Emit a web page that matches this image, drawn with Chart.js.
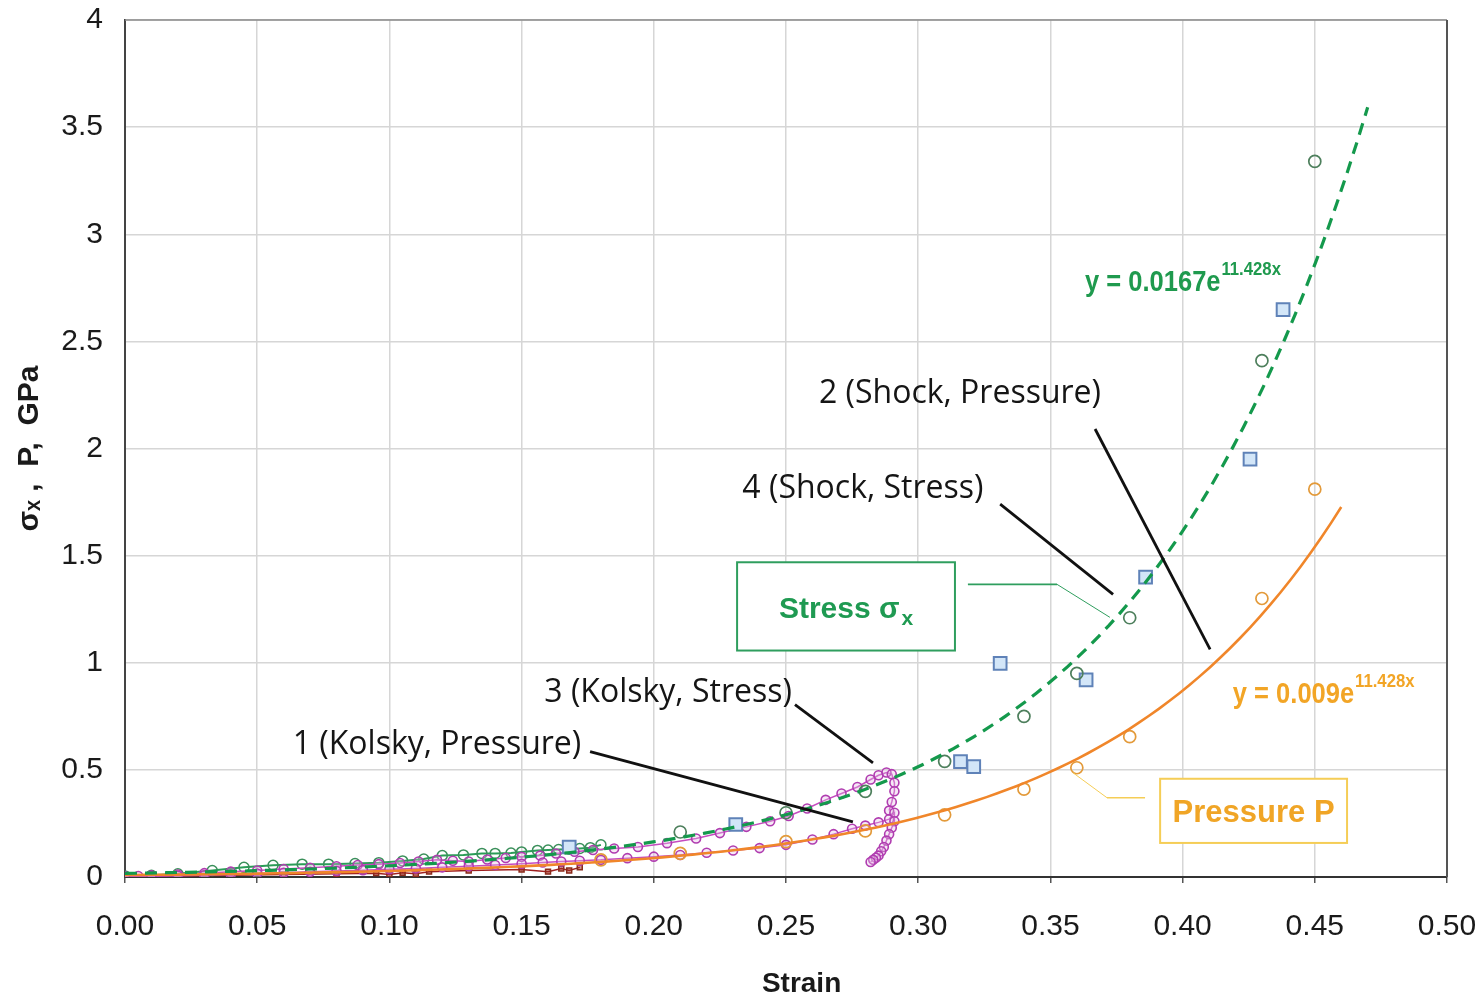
<!DOCTYPE html>
<html>
<head>
<meta charset="utf-8">
<script src="https://cdn.jsdelivr.net/npm/chart.js@4.4.1/dist/chart.umd.min.js"></script>
<style>
  html, body { margin: 0; padding: 0; background: #ffffff; }
  #wrap { width: 1484px; height: 998px; }
</style>
</head>
<body>
<div id="wrap"><canvas id="c" width="1484" height="998"></canvas></div>
<script>
// ---- data: strain vs. stress / pressure (GPa) ----
// Kolsky bar, stress (green, low strain part)
const kolskyStressGreenX = [0.000,0.010,0.020,0.033,0.045,0.056,0.067,0.077,0.087,0.096,0.105,0.113,0.120,0.128,0.135,0.140,0.146,0.150,0.156,0.160,0.164,0.168,0.172,0.176,0.180];
const kolskyStressGreenY = [0.005,0.008,0.015,0.030,0.045,0.055,0.060,0.060,0.063,0.067,0.075,0.084,0.100,0.103,0.110,0.110,0.112,0.117,0.124,0.126,0.128,0.130,0.133,0.137,0.150];

// Shock data, stress (green circles)
const shockStressX = [0.210,0.250,0.280,0.310,0.340,0.360,0.380,0.430,0.450];
const shockStressY = [0.210,0.300,0.400,0.540,0.750,0.950,1.210,2.410,3.340];

// Shock data, pressure (orange circles)
const shockPressureX = [0.180,0.210,0.250,0.280,0.310,0.340,0.360,0.380,0.430,0.450];
const shockPressureY = [0.080,0.110,0.165,0.215,0.290,0.410,0.510,0.655,1.300,1.810];

// Shock data, second set (blue squares)
const shockSquaresX = [0.168,0.231,0.316,0.321,0.331,0.3635,0.386,0.4255,0.438];
const shockSquaresY = [0.140,0.245,0.538,0.515,0.997,0.920,1.400,1.950,2.648];

// Kolsky bar, stress (magenta, loading and unloading)
const kolskyStressX = [0.000,0.005,0.010,0.020,0.030,0.040,0.050,0.060,0.070,0.080,0.088,0.096,0.104,0.111,0.118,0.124,0.130,0.137,0.144,0.150,0.157,0.163,0.170,0.177,0.185,0.194,0.205,0.216,0.225,0.235,0.244,0.251,0.258,0.265,0.271,0.277,0.282,0.285,0.288,0.290,0.291,0.291,0.290,0.289];
const kolskyStressY = [0.003,0.005,0.008,0.012,0.018,0.025,0.030,0.037,0.043,0.050,0.056,0.060,0.065,0.072,0.080,0.076,0.072,0.082,0.089,0.094,0.100,0.110,0.118,0.126,0.133,0.140,0.158,0.180,0.205,0.234,0.260,0.285,0.320,0.360,0.390,0.420,0.455,0.475,0.488,0.480,0.440,0.400,0.350,0.310];

// Kolsky bar, pressure (magenta, loading and unloading)
const kolskyPressureX = [0.000,0.010,0.020,0.030,0.040,0.050,0.060,0.070,0.080,0.090,0.100,0.110,0.120,0.130,0.140,0.150,0.158,0.165,0.172,0.180,0.190,0.200,0.210,0.220,0.230,0.240,0.250,0.260,0.268,0.275,0.280,0.285,0.289,0.291,0.291,0.290,0.289,0.288,0.287,0.286,0.285,0.284,0.283,0.282];
const kolskyPressureY = [0.002,0.004,0.006,0.008,0.012,0.016,0.020,0.024,0.028,0.032,0.036,0.040,0.045,0.050,0.056,0.062,0.068,0.072,0.076,0.080,0.088,0.095,0.103,0.113,0.124,0.135,0.150,0.175,0.200,0.225,0.240,0.255,0.270,0.300,0.260,0.230,0.200,0.170,0.140,0.120,0.100,0.090,0.080,0.070];

// Kolsky bar, additional low-strain records (dark red)
const kolskyLowX = [0.000,0.020,0.040,0.060,0.080,0.095,0.100,0.105,0.110,0.115,0.130,0.150,0.160,0.165,0.168,0.172];
const kolskyLowY = [0.002,0.005,0.008,0.012,0.015,0.018,0.012,0.020,0.015,0.025,0.030,0.035,0.025,0.040,0.030,0.045];

// Exponential fits y = a * exp(b * x), with their plotted strain range
const stressFit   = { a: 0.0167, b: 11.428, xMax: 0.47 };
const pressureFit = { a: 0.009,  b: 11.428, xMax: 0.46 };

// Axis ranges and tick steps
const xRange = [0, 0.5], xStep = 0.05;
const yRange = [0, 4],   yStep = 0.5;

// ---- helpers ----
const pts = (xs, ys) => xs.map((v, i) => ({ x: v, y: ys[i] }));
function fitCurve(f) {
  const out = [];
  const n = 120;
  for (let i = 0; i <= n; i++) {
    const xv = f.xMax * i / n;
    out.push({ x: xv, y: f.a * Math.exp(f.b * xv) });
  }
  return out;
}

// ---- text annotations (data coordinates) ----
const callouts = [
  { text: '2 (Shock, Pressure)', at: [0.3158, 2.255], from: [0.3669, 2.091], to: [0.4104, 1.062] },
  { text: '4 (Shock, Stress)',   at: [0.2791, 1.810], from: [0.3310, 1.740], to: [0.3737, 1.319] },
  { text: '3 (Kolsky, Stress)',  at: [0.2054, 0.861], from: [0.2534, 0.805], to: [0.2829, 0.533] },
  { text: '1 (Kolsky, Pressure)',at: [0.1180, 0.6175],from: [0.1759, 0.585], to: [0.2753, 0.257] }
];

const boxes = [
  { main: 'Stress σ', sub: 'x', color: '#1f9a52', border: '#2f9e5e', size: 30,
    x0: 0.2315, x1: 0.3139, y0: 1.469, y1: 1.057,
    link: [[0.3188, 1.366], [0.3525, 1.366], [0.3725, 1.212]] },
  { main: 'Pressure P', sub: '', color: '#f0a526', border: '#f5cd56', size: 31,
    x0: 0.3915, x1: 0.4622, y0: 0.4585, y1: 0.159,
    link: [[0.3858, 0.370], [0.3714, 0.370], [0.3585, 0.487]] }
];

const equations = [
  { base: 'y = 0.0167e', sup: '11.428x', at: [0.3631, 2.737], color: '#1f9a4e' },
  { base: 'y = 0.009e',  sup: '11.428x', at: [0.4190, 0.814], color: '#f2a526' }
];

// ---- plugin: plot frame, callouts, boxes, fit equations ----
const overlay = {
  id: 'overlay',
  beforeDatasetsDraw(chart) {
    const { ctx, chartArea: a } = chart;
    ctx.save();
    ctx.strokeStyle = '#8a8a8a';
    ctx.lineWidth = 1.5;
    ctx.beginPath();
    ctx.moveTo(a.left, a.top); ctx.lineTo(a.right, a.top);
    ctx.stroke();
    ctx.strokeStyle = '#555';
    ctx.lineWidth = 2;
    ctx.beginPath();
    ctx.moveTo(a.right, a.top); ctx.lineTo(a.right, a.bottom);
    ctx.stroke();
    ctx.restore();
  },
  afterDatasetsDraw(chart) {
    const { ctx, scales: { x, y } } = chart;
    const px = v => x.getPixelForValue(v);
    const py = v => y.getPixelForValue(v);
    ctx.save();

    // callout labels and leader lines
    ctx.font = '32px "Open Sans", "Noto Sans", sans-serif';
    ctx.fillStyle = '#151515';
    ctx.textAlign = 'center';
    ctx.textBaseline = 'middle';
    callouts.forEach(c => {
      ctx.fillText(c.text, px(c.at[0]), py(c.at[1]));
      ctx.strokeStyle = '#111';
      ctx.lineWidth = 2.8;
      ctx.beginPath();
      ctx.moveTo(px(c.from[0]), py(c.from[1]));
      ctx.lineTo(px(c.to[0]), py(c.to[1]));
      ctx.stroke();
    });

    // series name boxes
    boxes.forEach(b => {
      const l = px(b.x0), r = px(b.x1), t = py(b.y0), bt = py(b.y1);
      ctx.fillStyle = '#ffffff';
      ctx.fillRect(l, t, r - l, bt - t);
      ctx.strokeStyle = b.border;
      ctx.lineWidth = 2;
      ctx.strokeRect(l, t, r - l, bt - t);
      // connector
      ctx.beginPath();
      ctx.lineWidth = 1.6;
      ctx.moveTo(px(b.link[0][0]), py(b.link[0][1]));
      ctx.lineTo(px(b.link[1][0]), py(b.link[1][1]));
      ctx.stroke();
      ctx.beginPath();
      ctx.lineWidth = 1;
      ctx.moveTo(px(b.link[1][0]), py(b.link[1][1]));
      ctx.lineTo(px(b.link[2][0]), py(b.link[2][1]));
      ctx.stroke();
      // text
      ctx.fillStyle = b.color;
      ctx.textBaseline = 'middle';
      const mainFont = `bold ${b.size}px "Liberation Sans", Arial, sans-serif`;
      const subFont = 'bold 21px "Liberation Sans", Arial, sans-serif';
      ctx.font = mainFont;
      const w1 = ctx.measureText(b.main).width;
      ctx.font = subFont;
      const w2 = b.sub ? ctx.measureText(b.sub).width + 2 : 0;
      let sx = (l + r) / 2 - (w1 + w2) / 2;
      const cy = (t + bt) / 2 + 3;
      ctx.textAlign = 'left';
      ctx.font = mainFont;
      ctx.fillText(b.main, sx, cy);
      if (b.sub) {
        ctx.font = subFont;
        ctx.fillText(b.sub, sx + w1 + 2, cy + 10);
      }
    });

    // fit equations
    equations.forEach(e => {
      const bx = px(e.at[0]), by = py(e.at[1]);
      ctx.fillStyle = e.color;
      ctx.textAlign = 'left';
      ctx.textBaseline = 'alphabetic';
      ctx.font = 'bold 29px "Liberation Sans", Arial, sans-serif';
      ctx.save();
      ctx.translate(bx, by);
      ctx.scale(0.88, 1);
      ctx.fillText(e.base, 0, 0);
      const w = ctx.measureText(e.base).width;
      ctx.font = 'bold 19px "Liberation Sans", Arial, sans-serif';
      ctx.fillText(e.sup, w + 1, -16);
      ctx.restore();
    });

    ctx.restore();
  }
};

const tickFont = { family: '"Liberation Sans", Arial, sans-serif', size: 30 };

new Chart(document.getElementById('c'), {
  type: 'scatter',
  data: {
    datasets: [
      { label: 'Stress fit', data: fitCurve(stressFit), showLine: true, pointRadius: 0,
        borderColor: '#14994c', borderWidth: 3.2, borderDash: [12, 8], order: 0 },
      { label: 'Pressure fit', data: fitCurve(pressureFit), showLine: true, pointRadius: 0,
        borderColor: '#f0862a', borderWidth: 2.6, order: 0 },
      { label: 'Kolsky stress (green)', data: pts(kolskyStressGreenX, kolskyStressGreenY), showLine: true,
        borderColor: '#2a9d57', borderWidth: 2, pointRadius: 5, pointBorderWidth: 1.5,
        pointBorderColor: '#3a8f5a', pointBackgroundColor: 'rgba(255,255,255,0)', order: 3 },
      { label: 'Kolsky low', data: pts(kolskyLowX, kolskyLowY), showLine: true,
        borderColor: '#a02020', borderWidth: 1.5, pointRadius: 3.5, pointStyle: 'rect', pointBorderWidth: 1.5,
        pointBorderColor: '#8a2a1a', pointBackgroundColor: 'rgba(160,40,30,0.5)', order: 4 },
      { label: 'Kolsky pressure', data: pts(kolskyPressureX, kolskyPressureY), showLine: true,
        borderColor: '#c54bbf', borderWidth: 1.5, pointRadius: 4.5, pointBorderWidth: 1.6,
        pointBorderColor: '#b03cb0', pointBackgroundColor: 'rgba(230,190,230,0.35)', order: 2 },
      { label: 'Kolsky stress', data: pts(kolskyStressX, kolskyStressY), showLine: true,
        borderColor: '#c54bbf', borderWidth: 1.5, pointRadius: 4.5, pointBorderWidth: 1.6,
        pointBorderColor: '#b03cb0', pointBackgroundColor: 'rgba(230,190,230,0.35)', order: 2 },
      { label: 'Shock stress', data: pts(shockStressX, shockStressY), showLine: false,
        pointRadius: 6, pointBorderWidth: 1.7, pointBorderColor: '#4d7f5c',
        pointBackgroundColor: 'rgba(255,255,255,0)', order: 1 },
      { label: 'Shock pressure', data: pts(shockPressureX, shockPressureY), showLine: false,
        pointRadius: 6, pointBorderWidth: 1.7, pointBorderColor: '#e39a3a',
        pointBackgroundColor: 'rgba(255,255,255,0)', order: 1 },
      { label: 'Shock squares', data: pts(shockSquaresX, shockSquaresY), showLine: false,
        pointStyle: 'rect', pointRadius: 9, pointBorderWidth: 2, pointBorderColor: '#5f82b8',
        pointBackgroundColor: '#d3e6f8', order: 1 }
    ]
  },
  options: {
    responsive: false,
    animation: false,
    events: [],
    layout: { padding: { top: 20, right: 37, left: 0, bottom: 0 } },
    plugins: { legend: { display: false }, tooltip: { enabled: false } },
    scales: {
      x: {
        type: 'linear', min: xRange[0], max: xRange[1],
        afterFit: s => { s.height = 121; s.paddingLeft = 0; s.paddingRight = 0; },
        grid: { color: '#d6d6d6', lineWidth: 1.5, tickLength: 6, tickColor: '#555' },
        border: { color: '#333', width: 2 },
        ticks: { stepSize: xStep, padding: 26, color: '#1a1a1a', font: tickFont,
                 callback: v => Number(v).toFixed(2), maxRotation: 0, autoSkip: false },
        title: { display: true, text: '    Strain', color: '#1a1a1a',
                 font: { family: '"Liberation Sans", Arial, sans-serif', size: 28, weight: 'bold', lineHeight: 1 },
                 padding: { top: 0, bottom: 0 } }
      },
      y: {
        type: 'linear', min: yRange[0], max: yRange[1],
        afterFit: s => { s.width = 125; s.paddingTop = 0; s.paddingBottom = 0; },
        grid: { color: '#d6d6d6', lineWidth: 1.5, tickLength: 0 },
        border: { color: '#444', width: 2 },
        ticks: { stepSize: yStep, padding: 22, color: '#1a1a1a', font: tickFont,
                 callback: v => String(Number(v)) },
        title: { display: true, text: 'σₓ ,  P,  GPa', color: '#1a1a1a',
                 font: { family: '"Liberation Sans", Arial, sans-serif', size: 30, weight: 'bold', lineHeight: 1 },
                 padding: { top: 15, bottom: 0 } }
      }
    }
  },
  plugins: [overlay]
});
</script>
</body>
</html>
